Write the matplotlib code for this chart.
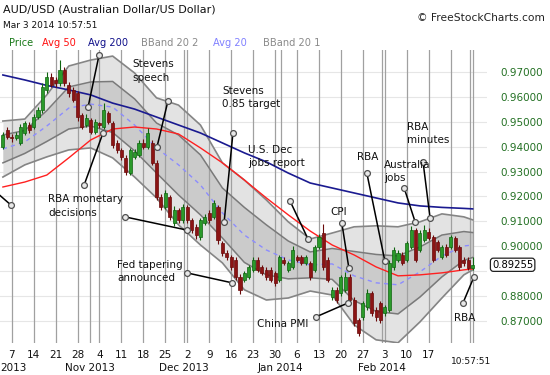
import matplotlib
matplotlib.use("Agg")
import matplotlib.pyplot as plt
import matplotlib.transforms as mtransforms

# ---- data: daily bars, index 0 = Thu Oct 3 2013 ... 107 = Mon Mar 3 2014 ----
open_ = [.9399, .9467, .9439, .9435, .9415, .9455, .9487, .9479, .9519, .9547,
         .9628, .9680, .9668, .9656, .9708, .9648, .9628, .9616, .9527, .9487,
         .9507, .9459, .9495, .9479, .9535, .9495, .9415, .9387, .9355, .9294,
         .9359, .9367, .9415, .9399, .9415, .9335, .9198, .9158, .9198, .9094,
         .9146, .9106, .9158, .9106, .9078, .9037, .9094, .9134, .9118, .9158,
         .9013, .8973, .8957, .8945, .8877, .8865, .8877, .8905, .8945, .8917,
         .8905, .8905, .8893, .8865, .8945, .8905, .8917, .8957, .8957, .8933,
         .8933, .8905, .8997, .9053, .8945, .8796, .8825, .8813, .8825, .8877,
         .8784, .8704, .8716, .8756, .8813, .8744, .8772, .8732, .8744, .8917,
         .8945, .8965, .8945, .8997, .9065, .8985, .9025, .9057, .9037, .9017,
         .8957, .8997, .8997, .9033, .8997, .8945, .8945, .8913]
high_ = [.9460, .9480, .9452, .9458, .9490, .9505, .9500, .9530, .9560, .9655,
         .9700, .9695, .9680, .9750, .9720, .9660, .9640, .9625, .9535, .9530,
         .9515, .9510, .9500, .9575, .9545, .9505, .9425, .9395, .9365, .9395,
         .9390, .9425, .9430, .9475, .9425, .9345, .9210, .9225, .9205, .9160,
         .9155, .9170, .9165, .9115, .9090, .9115, .9130, .9145, .9185, .9165,
         .9020, .8985, .8965, .8955, .8890, .8900, .8925, .8955, .8955, .8925,
         .8915, .8915, .8900, .8965, .8955, .8940, .9000, .8965, .8965, .8965,
         .8940, .9005, .9050, .9090, .8955, .8835, .8835, .8885, .8895, .8890,
         .8795, .8712, .8780, .8830, .8820, .8755, .8780, .8765, .8945, .8995,
         .8985, .8975, .9020, .9080, .9075, .9065, .9085, .9075, .9045, .9025,
         .9005, .9010, .9045, .9040, .9005, .8955, .8955, .8955]
low_ = [.9390, .9430, .9420, .9425, .9405, .9445, .9455, .9470, .9510, .9535,
        .9615, .9640, .9640, .9645, .9645, .9600, .9580, .9505, .9470, .9480,
        .9450, .9450, .9475, .9470, .9490, .9395, .9375, .9345, .9285, .9285,
        .9350, .9360, .9390, .9390, .9325, .9185, .9145, .9150, .9105, .9080,
        .9095, .9095, .9095, .9055, .9030, .9025, .9085, .9095, .9110, .9010,
        .8960, .8945, .8905, .8865, .8810, .8855, .8870, .8895, .8895, .8885,
        .8865, .8855, .8840, .8855, .8925, .8895, .8910, .8935, .8925, .8925,
        .8865, .8895, .8990, .8905, .8855, .8785, .8770, .8800, .8815, .8775,
        .8680, .8640, .8705, .8745, .8720, .8700, .8690, .8720, .8735, .8905,
        .8935, .8925, .8935, .8990, .8935, .8975, .9015, .9025, .8935, .8975,
        .8950, .8955, .8990, .8975, .8905, .8920, .8905, .8905]
close_ = [.9447, .9439, .9435, .9447, .9479, .9495, .9467, .9519, .9547, .9640,
          .9680, .9648, .9656, .9708, .9656, .9616, .9588, .9519, .9479, .9515,
          .9459, .9499, .9487, .9547, .9499, .9407, .9387, .9359, .9298, .9387,
          .9379, .9415, .9399, .9455, .9335, .9198, .9158, .9214, .9118, .9146,
          .9106, .9158, .9106, .9065, .9045, .9106, .9118, .9106, .9174, .9025,
          .8973, .8957, .8917, .8877, .8825, .8893, .8917, .8945, .8905, .8893,
          .8877, .8865, .8854, .8957, .8933, .8933, .8985, .8945, .8933, .8957,
          .8877, .8997, .9037, .8917, .8865, .8825, .8784, .8877, .8877, .8784,
          .8692, .8652, .8772, .8813, .8732, .8716, .8704, .8756, .8933, .8985,
          .8973, .8933, .9013, .9065, .8945, .9053, .9065, .9033, .8945, .8985,
          .8997, .8965, .9037, .8985, .8917, .8933, .8913, .89255]

# indicator readings (bar index where read)
ind_idx = [0, 5, 10, 15, 20, 25, 30, 35, 40, 45, 50, 55, 60, 65, 70, 75, 80, 85,
           90, 95, 100, 105, 107]
avg200 = [.9688, .9668, .9646, .9628, .9608, .9575, .9551, .9519, .9487, .9455,
          .9415, .9375, .9339, .9294, .9254, .9234, .9214, .9194, .9174, .9162,
          .9156, .9152, .9150]
avg50 = [.9238, .9258, .9286, .9355, .9427, .9471, .9479, .9471, .9451, .9395,
         .9335, .9266, .9194, .9126, .9061, .9005, .8965, .8917, .8881, .8885,
         .8893, .8905, .8909]
avg20 = [.9391, .9419, .9483, .9555, .9571, .9559, .9487, .9395, .9327, .9246,
         .9134, .9045, .8985, .8945, .8925, .8929, .8881, .8853, .8845, .8897,
         .8961, .9001, .9005]
bb2_up = [.9503, .9511, .9608, .9724, .9748, .9764, .9696, .9596, .9567, .9487,
          .9335, .9266, .9186, .9098, .9029, .9053, .9078, .9082, .9078, .9098,
          .9130, .9118, .9106]
bb2_lo = [.9278, .9327, .9359, .9387, .9395, .9355, .9278, .9194, .9086, .9005,
          .8933, .8825, .8784, .8792, .8820, .8804, .8684, .8624, .8612, .8696,
          .8792, .8885, .8905]
bb1_up = [.9447, .9465, .9545, .9640, .9660, .9662, .9592, .9495, .9447, .9367,
          .9234, .9156, .9086, .9021, .8977, .8991, .8979, .8967, .8961, .8997,
          .9045, .9059, .9055]
bb1_lo = [.9335, .9373, .9421, .9471, .9483, .9457, .9383, .9294, .9206, .9126,
          .9033, .8935, .8885, .8869, .8873, .8867, .8782, .8738, .8728, .8796,
          .8877, .8943, .8955]

week_pos = [2, 7, 12, 17, 22, 27, 32, 37, 42, 47, 52, 57, 62, 67, 72, 77, 82, 87,
            92, 97, 102, 107]
week_labels = ["7", "14", "21", "28", "4", "11", "18", "25", "2", "9", "16", "23",
               "30", "6", "13", "20", "27", "3", "10", "17", "", ""]
month_pos = [-2.7, 19.8, 41.3, 63.3, 86.3, 106.4]
month_labels = ["2013", "Nov 2013", "Dec 2013", "Jan 2014", "Feb 2014", ""]
price_ticks = [0.87, 0.88, 0.89, 0.90, 0.91, 0.92, 0.93, 0.94, 0.95, 0.96, 0.97]
price_labels = ["0.87000", "0.88000", "", "0.90000", "0.91000", "0.92000",
                "0.93000", "0.94000", "0.95000", "0.96000", "0.97000"]

# events: label, text pos (bar, price), label end point, target point
ev_labels = ["Stevens\nspeech", "", "RBA monetary\ndecisions", "", "",
             "Stevens\n0.85 target", "U.S. Dec\njobs report", "Fed tapering\nannounced",
             "CPI", "China PMI", "RBA", "Australia\njobs", "RBA\nminutes", "RBA"]
ev_text_x = [29.6, 0, 10.3, 0, 0, 49.9, 55.8, 26.0, 74.6, 57.9, 80.7, 86.8, 92.0, 102.8]
ev_text_y = [.9752, 0, .9210, 0, 0, .9645, .9408, .8946, .9138, .8688, .9359, .9348, .9500, .8712]
ev_va = ["top", "", "top", "", "", "top", "top", "top", "center", "center", "center",
         "top", "top", "center"]
ev_x1 = [37.6, 21.9, 18.5, 1.8, 27.8, 52.4, 65.4, 41.9, 77.2, 71.3, 82.9, 91.4, 95.7, 104.8]
ev_y1 = [.9584, .9768, .9246, .9166, .9118, .9455, .9182, .8893, .9094, .8716, .9294, .9234, .9339, .8772]
ev_x2 = [35.1, 19.4, 22.8, -3.0, 41.9, 50.4, 69.5, 52.2, 78.8, 78.6, 87.0, 93.9, 97.3, 107.3]
ev_y2 = [.9399, .9559, .9455, .9240, .9065, .9098, .9029, .8853, .8913, .8772, .8941, .9098, .9114, .8877]

# ---- figure ----
W, H = 550, 375
fig = plt.figure(figsize=(W / 100, H / 100), dpi=100)
fig.patch.set_facecolor("white")
ax = fig.add_axes([0, 32 / H, 487 / W, 293 / H])
ax.set_xlim(-0.66, 110.27)
ax.set_ylim(0.86112, 0.97884)
for s in ax.spines.values():
    s.set_visible(False)

# grid
for p in price_ticks:
    ax.axhline(p, color="#e6e6e6", lw=0.8, zorder=0.2)
for x in week_pos + month_pos:
    ax.axvline(x, color="#a0a0a0", lw=0.9, zorder=1)

# bollinger fills and lines
ax.fill_between(ind_idx, bb2_lo, bb2_up, color="#e3e3e3", lw=0, zorder=0.5)
ax.fill_between(ind_idx, bb1_lo, bb1_up, color="#cbcbcb", lw=0, zorder=0.6)
for arr in (bb2_up, bb2_lo):
    ax.plot(ind_idx, arr, color="#858585", lw=1.2, zorder=2)
for arr in (bb1_up, bb1_lo):
    ax.plot(ind_idx, arr, color="#7a7a7a", lw=1.1, zorder=2)
ax.plot(ind_idx, avg20, color="#8c8cff", lw=1.0, ls=(0, (3, 3)), zorder=2.2)
ax.plot(ind_idx, avg50, color="#ff2020", lw=1.0, zorder=2.4)
ax.plot(ind_idx, avg200, color="#1a1a90", lw=1.2, zorder=2.4)

# candles
idx = list(range(len(close_)))
up_col, dn_col = "#2a9a2a", "#8b1414"
up_edge, dn_edge = "#0f640f", "#6a0a0a"
cols = [up_col if c >= o else dn_col for o, c in zip(open_, close_)]
edges = [up_edge if c >= o else dn_edge for o, c in zip(open_, close_)]
ax.vlines(idx, low_, high_, colors=edges, lw=0.8, zorder=3)
bottoms = [min(o, c) for o, c in zip(open_, close_)]
heights = [max(abs(c - o), 0.0002) for o, c in zip(open_, close_)]
ax.bar(idx, heights, bottom=bottoms, width=0.7, color=cols, edgecolor=edges,
       linewidth=0.5, zorder=3.1)

# annotations
for lab, tx, ty, va, x1, y1, x2, y2 in zip(ev_labels, ev_text_x, ev_text_y, ev_va,
                                          ev_x1, ev_y1, ev_x2, ev_y2):
    ax.plot([x1, x2], [y1, y2], color="black", lw=1.1, zorder=4, clip_on=True)
    ax.plot([x1, x2], [y1, y2], ls="none", marker="o", ms=4.2, mfc="#e8e8e8",
            mec="#505050", mew=0.9, zorder=4.1)
    if lab:
        ax.text(tx, ty, lab, fontsize=7.5, va=va, ha="left", color="#111111",
                linespacing=1.45, zorder=5)

# axes ticks
ax.yaxis.tick_right()
ax.set_yticks(price_ticks)
ax.set_yticklabels(price_labels)
ax.tick_params(axis="y", length=0, pad=9.4, labelsize=7.5, labelcolor="#237023")
ax.set_xticks(week_pos)
ax.set_xticklabels(week_labels)
ax.tick_params(axis="x", length=0, pad=5, labelsize=7.5, labelcolor="#111111")

trans = mtransforms.blended_transform_factory(ax.transData, ax.transAxes)
for mp, ml in zip(month_pos, month_labels):
    if not ml:
        continue
    if mp < 0:
        ax.text(-0.5, -25 / 293, ml, transform=trans, ha="left", va="center",
                fontsize=7.5, color="#111111", clip_on=False)
    else:
        ax.text(mp, -25 / 293, ml, transform=trans, ha="center", va="center",
                fontsize=7.5, color="#111111", clip_on=False)

# last price box
ax.text(1.0 + 5 / 487, close_[-1], "%.5f" % close_[-1],
        transform=mtransforms.blended_transform_factory(ax.transAxes, ax.transData),
        fontsize=7.2, va="center", ha="left", color="black", zorder=10,
        bbox=dict(boxstyle="round,pad=0.16,rounding_size=0.3", fc="white",
                  ec="#222222", lw=0.9), clip_on=False)

# header texts
def fx(px):
    return px / W

def fy(py):
    return 1 - py / H

fig.text(fx(3), fy(9), "AUD/USD (Australian Dollar/US Dollar)", fontsize=8,
         va="center", color="#111111")
fig.text(fx(3), fy(25), "Mar 3 2014 10:57:51", fontsize=6.5, va="center",
         color="#111111")
fig.text(fx(545), fy(18), "\u00a9 FreeStockCharts.com", fontsize=7.7, va="center",
         ha="right", color="#222222")
legend_items = [("Price", "#1a7a1a", 9), ("Avg 50", "#ff1010", 42),
                ("Avg 200", "#10108a", 88), ("BBand 20 2", "#8a8a8a", 141),
                ("Avg 20", "#8080ff", 213), ("BBand 20 1", "#8a8a8a", 263)]
for name, col, px in legend_items:
    fig.text(fx(px), fy(43), name, fontsize=7.1, va="center", color=col)
fig.text(fx(471), fy(362), "10:57:51", fontsize=6.5, va="center", ha="center",
         color="#111111")

fig.savefig("out.png", dpi=100)
